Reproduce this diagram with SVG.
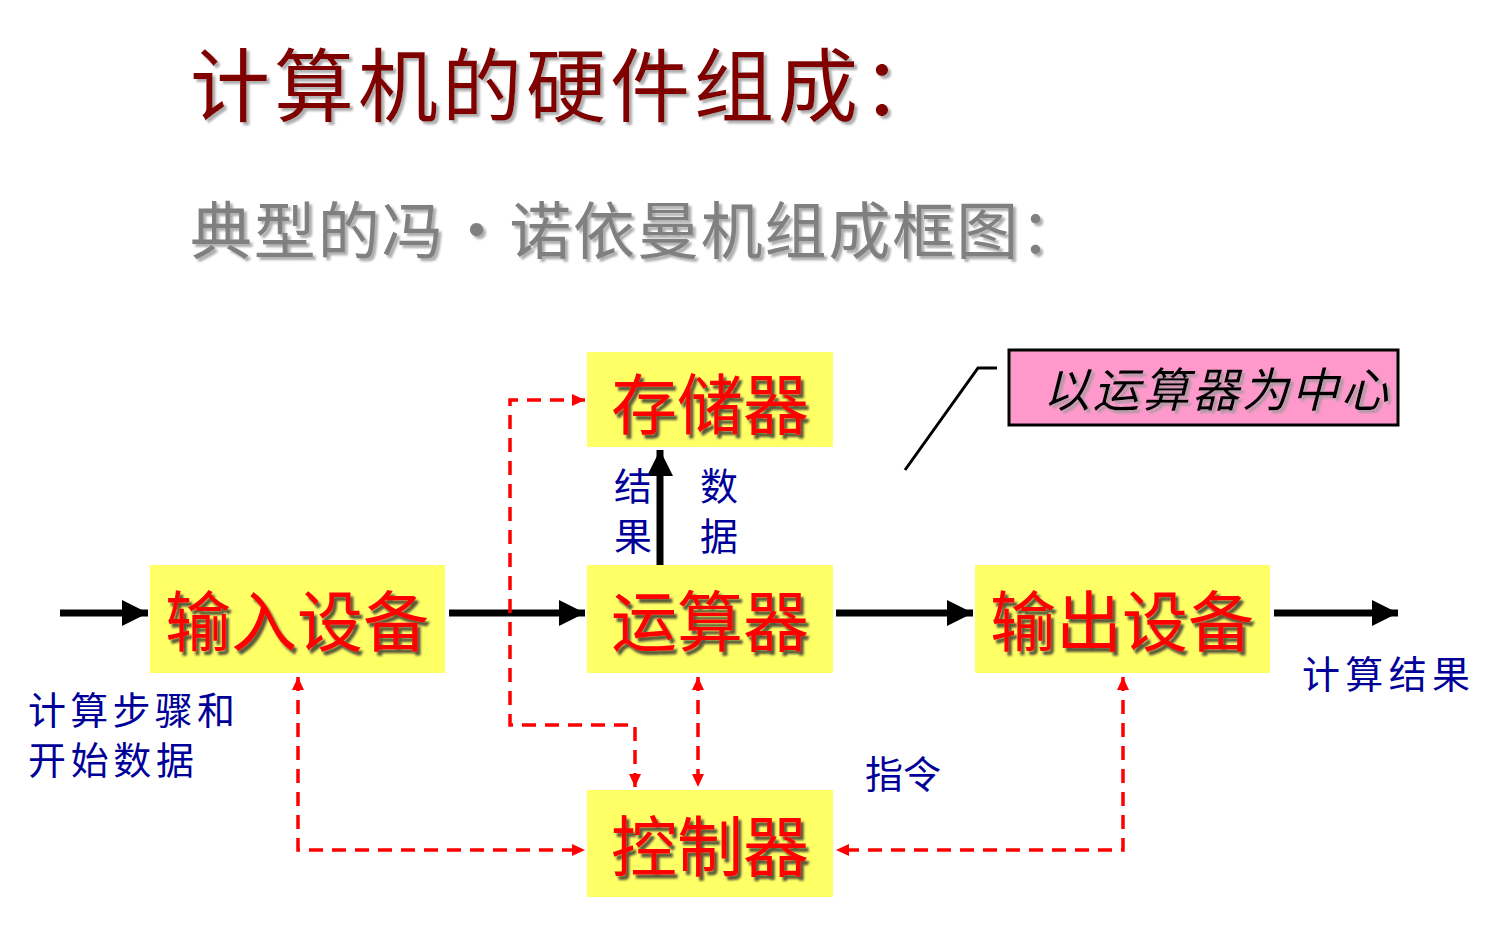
<svg xmlns="http://www.w3.org/2000/svg" width="1497" height="929" viewBox="0 0 1497 929">
<style>
.cjk{font-family:"Noto Sans CJK SC","Noto Sans CJK TC",sans-serif}
.title{font-size:80px;fill:#800000}
.sub{font-size:62px;fill:#808080}
.box{fill:#FFFF66}
.btxt{font-size:66px;fill:#FF0000;text-anchor:middle}
.lbl{font-size:38px;fill:#000099}
.blk{stroke:#000;stroke-width:7;fill:none}
.red{stroke:#FF0000;stroke-width:3.5;fill:none;stroke-dasharray:14 9}
</style>
<defs>
<filter id="sh" x="-10%" y="-10%" width="130%" height="140%"><feDropShadow dx="3" dy="4" stdDeviation="1.2" flood-color="#333" flood-opacity="0.8"/></filter>
<filter id="shl" x="-10%" y="-10%" width="130%" height="140%"><feDropShadow dx="3" dy="3" stdDeviation="1" flood-color="#999" flood-opacity="0.8"/></filter>
<marker id="ab" markerUnits="userSpaceOnUse" markerWidth="28" markerHeight="30" refX="26" refY="15" orient="auto"><path d="M0,2 L26,15 L0,28 Z" fill="#000"/></marker>
<marker id="ar" markerUnits="userSpaceOnUse" markerWidth="14" markerHeight="14" refX="13" refY="7" orient="auto"><path d="M0,1 L13,7 L0,13 Z" fill="#FF0000"/></marker>
<marker id="ars" markerUnits="userSpaceOnUse" markerWidth="14" markerHeight="14" refX="1" refY="7" orient="auto"><path d="M14,1 L1,7 L14,13 Z" fill="#FF0000"/></marker>
</defs>

<g id="title"><text class="cjk title" x="190" y="115" textLength="752" filter="url(#shl)">计算机的硬件组成：</text></g>
<g id="subtitle"><text class="cjk sub" x="190" y="254" textLength="892" filter="url(#shl)">典型的冯·诺依曼机组成框图：</text></g>

<g id="connectors">
<line class="blk" x1="60" y1="613" x2="148" y2="613" marker-end="url(#ab)"/>
<line class="blk" x1="449" y1="613" x2="585" y2="613" marker-end="url(#ab)"/>
<line class="blk" x1="836" y1="613" x2="973" y2="613" marker-end="url(#ab)"/>
<line class="blk" x1="1274" y1="613" x2="1398" y2="613" marker-end="url(#ab)"/>
<line class="blk" x1="660" y1="565" x2="660" y2="450" marker-end="url(#ab)"/>
<path class="red" d="M635,787 V725 H510 V400 H585" marker-start="url(#ars)" marker-end="url(#ar)"/>
<line class="red" x1="698" y1="677" x2="698" y2="787" marker-start="url(#ars)" marker-end="url(#ar)"/>
<path class="red" d="M298,677 V850 H585" marker-start="url(#ars)" marker-end="url(#ar)"/>
<path class="red" d="M1123,677 V850 H836" marker-start="url(#ars)" marker-end="url(#ar)"/>
<polyline points="905,470 978,368 997,368" fill="none" stroke="#000" stroke-width="3"/>
</g>

<g id="memory"><rect class="box" x="587" y="352" width="246" height="95"/><text class="cjk btxt" x="710" y="429" filter="url(#sh)">存储器</text></g>
<g id="input"><rect class="box" x="150" y="565" width="295" height="108"/><text class="cjk btxt" x="297" y="646" filter="url(#sh)">输入设备</text></g>
<g id="alu"><rect class="box" x="587" y="565" width="246" height="108"/><text class="cjk btxt" x="710" y="646" filter="url(#sh)">运算器</text></g>
<g id="output"><rect class="box" x="975" y="565" width="295" height="108"/><text class="cjk btxt" x="1122" y="646" filter="url(#sh)">输出设备</text></g>
<g id="control"><rect class="box" x="587" y="790" width="246" height="107"/><text class="cjk btxt" x="710" y="871" filter="url(#sh)">控制器</text></g>

<g id="callout"><rect x="1009" y="350" width="389" height="75" fill="#FF99CC" stroke="#000" stroke-width="3"/><text class="cjk" x="1043" y="407" font-size="47" textLength="345" font-style="italic" fill="#000" filter="url(#shl)">以运算器为中心</text></g>

<g id="labels">
<text class="cjk lbl" x="614" y="500">结</text>
<text class="cjk lbl" x="614" y="550">果</text>
<text class="cjk lbl" x="700" y="500">数</text>
<text class="cjk lbl" x="700" y="550">据</text>
<text class="cjk lbl" x="28" y="724" font-size="41" textLength="207">计算步骤和</text>
<text class="cjk lbl" x="28" y="774" font-size="41" textLength="166">开始数据</text>
<text class="cjk lbl" x="1302" y="688" font-size="42" textLength="168">计算结果</text>
<text class="cjk lbl" x="865" y="788" font-size="40">指令</text>
</g>
</svg>
